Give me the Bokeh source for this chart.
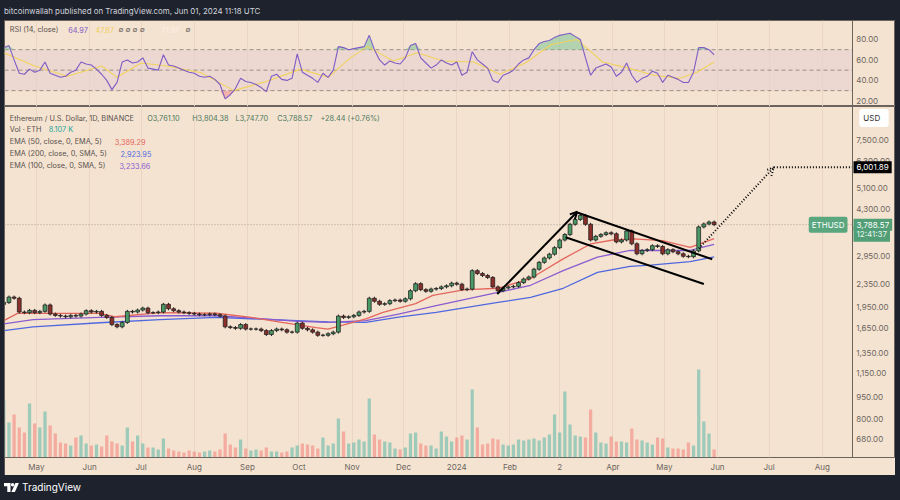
import numpy as np
import pandas as pd
from bokeh.plotting import figure
from bokeh.models import (Range1d, LinearScale, FixedTicker, NumeralTickFormatter, Label,
                          BoxAnnotation, Arrow, OpenHead, Div, Spacer)
from bokeh.layouts import column, row
from bokeh.embed import file_html
from bokeh.resources import INLINE

# ---------------- data (3-day steps from 2023-04-12) ----------------
close = [2030, 2120, 2100, 1880, 1870, 1905, 1870, 1890, 1990, 1850,
         1830, 1820, 1810, 1830, 1820, 1850, 1900, 1880, 1890, 1830,
         1800, 1700, 1670, 1730, 1890, 1880, 1910, 1940, 1870, 1870,
         1880, 2000, 1930, 1900, 1880, 1870, 1860, 1850, 1840, 1840,
         1850, 1840, 1820, 1670, 1660, 1650, 1700, 1640, 1640, 1640,
         1620, 1570, 1620, 1640, 1630, 1600, 1600, 1720, 1650, 1630,
         1600, 1560, 1560, 1580, 1600, 1820, 1800, 1810, 1830, 1880,
         1890, 2100, 2050, 2000, 2010, 2060, 2070, 2050, 2090, 2230,
         2360, 2250, 2220, 2260, 2270, 2300, 2320, 2370, 2350, 2250,
         2260, 2620, 2560, 2520, 2480, 2300, 2230, 2280, 2300, 2310,
         2380, 2450, 2490, 2650, 2800, 2900, 2990, 3150, 3350, 3500,
         3800, 3950, 4080, 3800, 3350, 3450, 3500, 3550, 3520, 3300,
         3350, 3600, 3250, 3000, 3080, 3100, 3200, 3180, 3000, 3100,
         3050, 3000, 2940, 2930, 3070, 3720, 3810, 3870, 3788.57]
first_open = 2000

volume_k = [57, 35, 43, 30, 25, 54, 34, 30, 46, 32,
            24, 15, 14, 12, 20, 22, 14, 12, 13, 11,
            22, 16, 14, 12, 30, 16, 22, 14, 10, 10,
            8, 19, 9, 7, 6, 5, 7, 6, 5, 6,
            7, 6, 8, 24, 13, 10, 18, 9, 7, 8,
            7, 10, 6, 6, 5, 6, 10, 12, 14, 13,
            12, 9, 20, 12, 14, 39, 26, 14, 15, 18,
            16, 59, 23, 18, 16, 15, 9, 8, 10, 24,
            25, 14, 12, 12, 9, 26, 21, 16, 20, 22,
            18, 68, 30, 13, 14, 19, 18, 13, 12, 13,
            18, 17, 18, 19, 17, 20, 23, 43, 25, 66,
            33, 22, 21, 20, 48, 25, 15, 14, 21, 16,
            16, 15, 29, 18, 17, 15, 13, 20, 19, 10,
            9, 9, 8, 15, 12, 88, 36, 24, 8.107]

rsi = [72, 74, 60, 47, 46, 51, 48, 50, 58, 47,
       45, 43, 44, 48, 50, 58, 56, 55, 51, 46,
       40, 31, 38, 58, 60, 57, 58, 62, 52, 51,
       50, 65, 55, 54, 52, 50, 48, 47, 44, 43,
       44, 41, 36, 22, 26, 32, 42, 39, 38, 36,
       33, 29, 44, 46, 41, 40, 42, 66, 48, 45,
       42, 38, 47, 43, 50, 73, 72, 70, 71, 72,
       73, 84, 70, 60, 55, 59, 57, 56, 62, 74,
       76, 62, 57, 52, 55, 60, 57, 55, 58, 45,
       48, 68, 60, 56, 52, 40, 38, 45, 47, 50,
       56, 60, 62, 70, 76, 78, 79, 82, 84, 85,
       86, 83, 80, 62, 45, 52, 54, 56, 53, 44,
       48, 57, 45, 38, 42, 44, 49, 47, 38, 45,
       43, 41, 38, 38, 48, 72, 72, 70, 64.97]

rsi_ma_day = [-19, -1, 18, 38, 47, 61, 76, 96, 115, 134, 154, 170, 183, 193,
              208, 222, 237, 255, 270, 285, 300, 315, 330, 345, 360, 375, 385, 395]
rsi_ma = [67, 54, 44, 54, 43, 57, 54, 47.5, 30, 39, 51, 43, 62, 73,
          59, 67, 59, 58, 46, 57, 75, 80, 58, 52, 45, 42, 48, 58]

ema50_day = [-19, -11, 37, 46, 72, 105, 124, 143, 163, 170, 192, 202, 221, 231,
             249, 269, 288, 307, 323, 336, 348, 365, 381, 395]
ema50 = [1754, 1860, 1860, 1810, 1870, 1862, 1805, 1730, 1660, 1640, 1780, 1875, 2010, 2150,
         2245, 2275, 2460, 2880, 3245, 3350, 3380, 3333, 3160, 3389.29]

ema100_day = [-19, -2, 37, 72, 105, 153, 170, 192, 211, 233, 269, 288, 307, 327, 346, 381, 395]
ema100 = [1708, 1770, 1800, 1825, 1825, 1745, 1730, 1754, 1850, 1978, 2200, 2330, 2620, 2920,
          3080, 3080, 3233.66]

ema200_day = [-19, -2, 37, 72, 105, 170, 192, 211, 233, 269, 288, 307, 327, 346, 358, 381, 395]
ema200 = [1618, 1670, 1725, 1770, 1800, 1738, 1730, 1805, 1875, 2030, 2115, 2275, 2585, 2710,
          2740, 2815, 2923.95]

month_day = [0, 31, 61, 92, 123, 153, 184, 214, 245, 276, 305, 336, 366, 397, 427, 458]
month_label = ["May", "Jun", "Jul", "Aug", "Sep", "Oct", "Nov", "Dec", "2024",
               "Feb", "2", "Apr", "May", "Jun", "Jul", "Aug"]
price_ticks = [680, 800, 950, 1150, 1350, 1650, 1950, 2350, 2950, 4300, 5100, 6300, 7500]
rsi_ticks = [20, 40, 60, 80]
rsi_levels = [30, 50, 70]

# analyst drawings: (day, price)
impulse = [(268.6, 2173), (315.2, 4200)]
chan_upper = [(315.2, 4175), (393.9, 2870)]
chan_lower = [(308.4, 3423), (389.0, 2355)]
projection = [(386.1, 3130), (429.8, 6001.89)]
target_price = 6001.89
last_price = 3788.57

# ---------------- styling ----------------
FONT = "Inter"
BG = "#f5e3d1"
DARK = "#1e222d"
FRAME = "#6b645d"
TXT = "#6b6560"
LEG = "#57524d"
UP_FILL, DN_FILL, WICK = "#4a9a66", "#8c2f2a", "#222222"
RED, PURPLE, BLUE = "#e4665c", "#8a5cd0", "#4f68e0"
TAG_GREEN = "#519e77"
LFS = "7.3px"

dates = pd.date_range("2023-04-12", periods=len(close), freq="3D")
day = (dates - pd.Timestamp("2023-05-01")).days.to_numpy().astype(float)
c = np.array(close, float)
o = np.concatenate([[first_open], c[:-1]])
up = c >= o
hi = np.maximum(o, c) * 1.012
lo = np.minimum(o, c) * 0.988
vol = np.array(volume_k, float)
rsi_a = np.array(rsi, float)

X0, X1 = -18.6, 500.7     # full panel width (incl. price-scale column)
SEP = 475.5               # where the price scale column begins
Y0, Y1 = 585.4, 9774
xr = Range1d(X0, X1)


def style_price_axis(ax, ticks, fmt):
    ax.ticker = FixedTicker(ticks=ticks)
    ax.formatter = NumeralTickFormatter(format=fmt)
    ax.fixed_location = SEP
    ax.axis_line_color = FRAME
    ax.axis_line_width = 1
    ax.major_tick_line_color = None
    ax.minor_tick_line_color = None
    ax.major_tick_out = 0
    ax.major_tick_in = 0
    ax.major_label_standoff = 4
    ax.major_label_text_font = FONT
    ax.major_label_text_font_size = "8px"
    ax.major_label_text_color = TXT


def label(fig, x, y, text, color, size=LFS, **kw):
    fig.add_layout(Label(x=x, y=y, x_units="screen", y_units="screen", text=text,
                         text_color=color, text_font=FONT, text_font_size=size,
                         text_baseline="middle", **kw))

# ---------------- RSI pane ----------------
pr = figure(width=891, height=86, x_range=xr, y_range=Range1d(14.5, 98.5),
            x_axis_location=None, y_axis_location="right", output_backend="svg",
            toolbar_location=None, min_border=0,
            background_fill_color=BG, border_fill_color=BG,
            outline_line_color=FRAME, outline_line_width=1)
pr.add_layout(BoxAnnotation(bottom=30, top=70, right=SEP, fill_color="#e4cdd0",
                            fill_alpha=0.5, line_alpha=0, level="underlay"))
pr.segment(x0=X0, y0=rsi_levels, x1=SEP, y1=rsi_levels, line_color="#9a8f88",
           line_dash="4 3", line_width=1)
pr.varea(x=day, y1=70, y2=np.maximum(rsi_a, 70), fill_color="#7cc596", fill_alpha=0.55)
pr.varea(x=day, y1=np.minimum(rsi_a, 30), y2=30, fill_color="#ef8a8a", fill_alpha=0.55)
pr.line(rsi_ma_day, rsi_ma, line_color="#f2d25c", line_width=1.1)
pr.line(day, rsi_a, line_color="#7e5cc6", line_width=1.1)
style_price_axis(pr.yaxis[0], rsi_ticks, "0.00")
pr.xgrid.ticker = FixedTicker(ticks=month_day)
pr.xgrid.grid_line_color = "#ead6c3"
pr.ygrid.grid_line_color = None

RSI_H = 86
ry = RSI_H - (29.3 - 20)
label(pr, 5.3, ry, "RSI (14, close)", LEG)
label(pr, 63.7, ry, "64.97", "#7e57c2")
label(pr, 91, ry, "47.87", "#f0cf5a")
label(pr, 114, ry, "\u2205  \u2205  \u2205  \u2205", TXT)
label(pr, 157, ry, "71.97", "#f8f0e6")
label(pr, 181, ry, "\u2205", TXT)

# ---------------- main pane ----------------
pm = figure(width=891, height=369, x_range=xr, y_range=Range1d(Y0, Y1), y_axis_type="log",
            y_axis_location="right", output_backend="svg", toolbar_location=None,
            min_border=0, min_border_bottom=18,
            background_fill_color=BG, border_fill_color=BG,
            outline_line_color=FRAME, outline_line_width=1)
pm.extra_y_ranges = {"vol": Range1d(0, 351)}
pm.extra_y_scales = {"vol": LinearScale()}

pm.vbar(x=day[up], top=vol[up], bottom=0, width=1.9, y_range_name="vol",
        fill_color="#26a69a", fill_alpha=0.42, line_alpha=0)
pm.vbar(x=day[~up], top=vol[~up], bottom=0, width=1.9, y_range_name="vol",
        fill_color="#ef5350", fill_alpha=0.38, line_alpha=0)

pm.segment(x0=[X0], y0=[last_price], x1=[SEP], y1=[last_price], line_color="#a89c90",
           line_dash="1 2", line_width=1)

pm.line(ema200_day, ema200, line_color=BLUE, line_width=1.3)
pm.line(ema100_day, ema100, line_color=PURPLE, line_width=1.3)
pm.line(ema50_day, ema50, line_color=RED, line_width=1.3)

pm.segment(x0=day, y0=lo, x1=day, y1=hi, line_color=WICK, line_width=1)
pm.vbar(x=day[up], top=c[up], bottom=o[up], width=2.2, fill_color=UP_FILL,
        line_color=WICK, line_width=0.8)
pm.vbar(x=day[~up], top=o[~up], bottom=c[~up], width=2.2, fill_color=DN_FILL,
        line_color=WICK, line_width=0.8)

# pattern drawings
for seg in (chan_upper, chan_lower):
    pm.segment(x0=[seg[0][0]], y0=[seg[0][1]], x1=[seg[1][0]], y1=[seg[1][1]],
               line_color="black", line_width=2)
pm.add_layout(Arrow(end=OpenHead(size=7, line_width=2, line_color="black"),
                    x_start=impulse[0][0], y_start=impulse[0][1],
                    x_end=impulse[1][0], y_end=impulse[1][1],
                    line_color="black", line_width=2))
pm.add_layout(Arrow(end=OpenHead(size=8, line_width=2, line_color="black", line_dash="1 2"),
                    x_start=projection[0][0], y_start=projection[0][1],
                    x_end=projection[1][0], y_end=projection[1][1],
                    line_color="black", line_width=2, line_dash="1 2"))
pm.segment(x0=[projection[1][0]], y0=[target_price], x1=[SEP], y1=[target_price],
           line_color="black", line_width=2, line_dash="1 2")

style_price_axis(pm.yaxis[0], price_ticks, "0,0.00")

xa = pm.xaxis[0]
xa.ticker = FixedTicker(ticks=month_day)
xa.major_label_overrides = {d: lab for d, lab in zip(month_day, month_label)}
xa.axis_line_color = None
xa.major_tick_line_color = None
xa.minor_tick_line_color = None
xa.major_tick_out = 0
xa.major_tick_in = 0
xa.major_label_standoff = 4
xa.major_label_text_font = FONT
xa.major_label_text_font_size = "8px"
xa.major_label_text_color = TXT

pm.xgrid.ticker = FixedTicker(ticks=month_day)
pm.xgrid.grid_line_color = "#ead6c3"
pm.ygrid.grid_line_color = None

MAIN_BOT = 457


def sy(page_y):
    return MAIN_BOT - page_y


OHLC = "#4b7a5c"
label(pm, 5.3, sy(117.7), "Ethereum / U.S. Dollar, 1D, BINANCE", LEG)
label(pm, 142.7, sy(117.7), "O3,761.10", OHLC)
label(pm, 187.7, sy(117.7), "H3,804.38", OHLC)
label(pm, 231, sy(117.7), "L3,747.70", OHLC)
label(pm, 272.7, sy(117.7), "C3,788.57", OHLC)
label(pm, 316, sy(117.7), "+28.44 (+0.76%)", OHLC)
label(pm, 5.3, sy(129.3), "Vol \u00b7 ETH", LEG)
label(pm, 44.3, sy(129.3), "8.107 K", "#26a69a")
label(pm, 5.3, sy(141), "EMA (50, close, 0, EMA, 5)", LEG)
label(pm, 110.3, sy(141), "3,389.29", RED)
label(pm, 5.3, sy(153.3), "EMA (200, close, 0, SMA, 5)", LEG)
label(pm, 116, sy(153.3), "2,923.95", BLUE)
label(pm, 5.3, sy(165), "EMA (100, close, 0, SMA, 5)", LEG)
label(pm, 115, sy(165), "3,233.66", PURPLE)

# price tags in the price-scale column
pm.add_layout(Label(x=869.5, y=sy(117.5), x_units="screen", y_units="screen", text=" USD ",
                    text_color="#333333", text_font=FONT, text_font_size="8px",
                    text_align="center", text_baseline="middle",
                    background_fill_color="white", padding=4, border_radius=3))
pm.add_layout(Label(x=849, y=target_price, x_units="screen", text="6,001.89",
                    text_color="white", text_font=FONT, text_font_size="8px",
                    text_baseline="middle", background_fill_color="black", padding=3))
pm.add_layout(Label(x=849, y=sy(233.3), x_units="screen", y_units="screen", text="12:41:37",
                    text_color="#e8f4ec", text_font=FONT, text_font_size="8px",
                    text_baseline="middle", background_fill_color=TAG_GREEN, padding=3))
pm.add_layout(Label(x=849, y=last_price, x_units="screen", text="3,788.57",
                    text_color="white", text_font=FONT, text_font_size="8px",
                    text_baseline="middle", background_fill_color=TAG_GREEN, padding=3))
pm.add_layout(Label(x=843, y=last_price, x_units="screen", text="ETHUSD",
                    text_color="white", text_font=FONT, text_font_size="8px",
                    text_align="right", text_baseline="middle",
                    background_fill_color="#5aa67f", padding=3, border_radius=2))

# ---------------- header / footer ----------------
header = Div(text='<div style="padding:6px 0 0 4px;color:#d1d4dc;font-size:7.9px;'
                  'font-family:Inter,sans-serif;white-space:nowrap;">'
                  'bitcoinwallah published on TradingView.com, Jun 01, 2024 11:18 UTC</div>',
             width=900, height=20, margin=0)
logo = ('<svg width="15" height="9" viewBox="0 0 15 9" style="vertical-align:-1px;margin-right:3px">'
        '<path d="M0 0h6.5v9h-3.2v-5.8h-3.3z" fill="#ffffff"/>'
        '<circle cx="8.6" cy="1.7" r="1.7" fill="#ffffff"/>'
        '<path d="M11.4 0h3.5l-4 9h-3.5z" fill="#ffffff"/></svg>')
footer = Div(text='<div style="padding:5px 0 0 4px;color:#ffffff;font-size:10px;'
                  'font-family:Inter,sans-serif;white-space:nowrap;">' + logo + 'TradingView</div>',
             width=900, height=24, margin=0)

layout = column(header,
                row(Spacer(width=4, height=455), column(pr, pm), Spacer(width=5, height=455)),
                footer)

html = file_html(layout, INLINE, title="ETHUSD")
html = html.replace("<head>", "<head><style>html,body{margin:0;padding:0;background:"
                    + DARK + ";overflow:hidden;}</style>", 1)
open("out.html", "w").write(html)
